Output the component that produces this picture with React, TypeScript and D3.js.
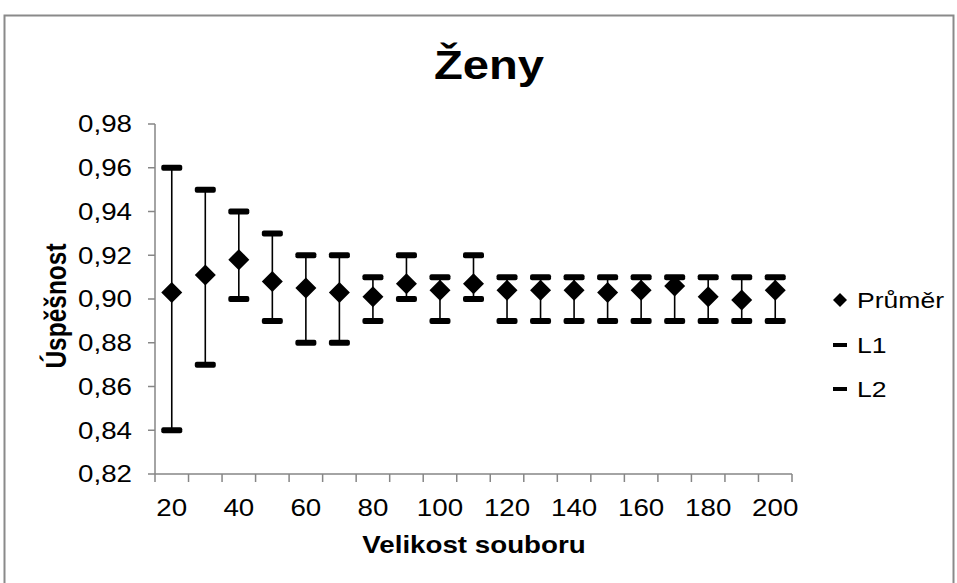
import React from "react";
import * as d3 from "d3";

const categories = [20, 30, 40, 50, 60, 70, 80, 90, 100, 110, 120, 130, 140, 150, 160, 170, 180, 190, 200];
const meanValues = [0.903, 0.911, 0.918, 0.908, 0.905, 0.903, 0.901, 0.907, 0.904, 0.907, 0.904, 0.904, 0.904, 0.903, 0.904, 0.906, 0.901, 0.8995, 0.904];
const l1Values = [0.96, 0.95, 0.94, 0.93, 0.92, 0.92, 0.91, 0.92, 0.91, 0.92, 0.91, 0.91, 0.91, 0.91, 0.91, 0.91, 0.91, 0.91, 0.91];
const l2Values = [0.84, 0.87, 0.90, 0.89, 0.88, 0.88, 0.89, 0.90, 0.89, 0.90, 0.89, 0.89, 0.89, 0.89, 0.89, 0.89, 0.89, 0.89, 0.89];
const yTicks = [0.82, 0.84, 0.86, 0.88, 0.90, 0.92, 0.94, 0.96, 0.98];
const xLabelCats = [20, 40, 60, 80, 100, 120, 140, 160, 180, 200];
const legendItems = ["Průměr", "L1", "L2"];

const W = 957;
const H = 583;
const SX = 1.18;
const FONT = "'Liberation Sans', Arial, sans-serif";
const AXIS = "#868686";

function SText({ x, y, anchor = "start", size, bold = false, children, rotate = 0 }: any) {
  const tr = rotate ? `translate(${x},${y}) rotate(${rotate}) scale(1,${SX})` : `translate(${x},${y}) scale(${SX},1)`;
  return (
    <text transform={tr} textAnchor={anchor} fontSize={size} fontWeight={bold ? "bold" : "normal"} fontFamily={FONT} fill="#000">
      {children}
    </text>
  );
}

export default function App() {
  const x = d3.scaleBand<number>().domain(categories).range([155, 792]).padding(0);
  const y = d3.scaleLinear().domain([0.82, 0.98]).range([474, 124]);
  const cx = (c: number) => (x(c) as number) + x.bandwidth() / 2;
  const fmt = (v: number) => v.toFixed(2).replace(".", ",");
  const diamond = (px: number, py: number, r: number) =>
    `M${px},${py - r}L${px + r},${py}L${px},${py + r}L${px - r},${py}Z`;
  const boundaries = [...categories.map((c) => x(c) as number), 792];

  return (
    <svg width={W} height={H} style={{ position: "absolute", left: 0, top: 0, background: "#fff" }}>
      <rect x={0} y={0} width={W} height={H} fill="#fff" />
      <rect x={4.5} y={15.5} width={949} height={620} fill="none" stroke="#8a8a8a" strokeWidth={2} />

      <SText x={489} y={79} anchor="middle" size={40} bold>Ženy</SText>

      {/* y axis */}
      <line x1={155} x2={155} y1={y(0.98)} y2={y(0.82)} stroke={AXIS} strokeWidth={1.5} />
      {yTicks.map((t) => (
        <g key={t}>
          <line x1={148} x2={155} y1={y(t)} y2={y(t)} stroke={AXIS} strokeWidth={1.5} />
          <SText x={132} y={y(t) + 8.3} anchor="end" size={23.5}>{fmt(t)}</SText>
        </g>
      ))}

      {/* x axis */}
      <line x1={155} x2={792} y1={474} y2={474} stroke={AXIS} strokeWidth={1.5} />
      {boundaries.map((b, i) => (
        <line key={i} x1={b} x2={b} y1={474} y2={482} stroke={AXIS} strokeWidth={1.5} />
      ))}
      {xLabelCats.map((c) => (
        <SText key={c} x={cx(c)} y={516} anchor="middle" size={23.5}>{String(c)}</SText>
      ))}

      <SText x={474} y={553} anchor="middle" size={23.5} bold>Velikost souboru</SText>
      <SText x={66} y={306} anchor="middle" size={24.5} bold rotate={-90}>Úspěšnost</SText>

      {/* high-low lines */}
      {categories.map((c, i) => (
        <line key={"hl" + c} x1={cx(c)} x2={cx(c)} y1={y(l1Values[i])} y2={y(l2Values[i])} stroke="#000" strokeWidth={1.6} />
      ))}
      {/* L1 and L2 dash markers */}
      {categories.map((c, i) => (
        <g key={"m" + c}>
          <rect x={cx(c) - 10.5} y={y(l1Values[i]) - 3} width={21} height={6} rx={2} fill="#000" />
          <rect x={cx(c) - 10.5} y={y(l2Values[i]) - 3} width={21} height={6} rx={2} fill="#000" />
        </g>
      ))}
      {/* mean diamonds */}
      {categories.map((c, i) => (
        <path key={"d" + c} d={diamond(cx(c), y(meanValues[i]), 10.5)} fill="#000" />
      ))}

      {/* legend */}
      <path d={diamond(840, 300, 7)} fill="#000" />
      <SText x={857} y={308} size={22.5}>{legendItems[0]}</SText>
      <rect x={833} y={343} width={14} height={4} fill="#000" />
      <SText x={857} y={353} size={22.5}>{legendItems[1]}</SText>
      <rect x={833} y={387} width={14} height={4} fill="#000" />
      <SText x={857} y={397} size={22.5}>{legendItems[2]}</SText>
    </svg>
  );
}
